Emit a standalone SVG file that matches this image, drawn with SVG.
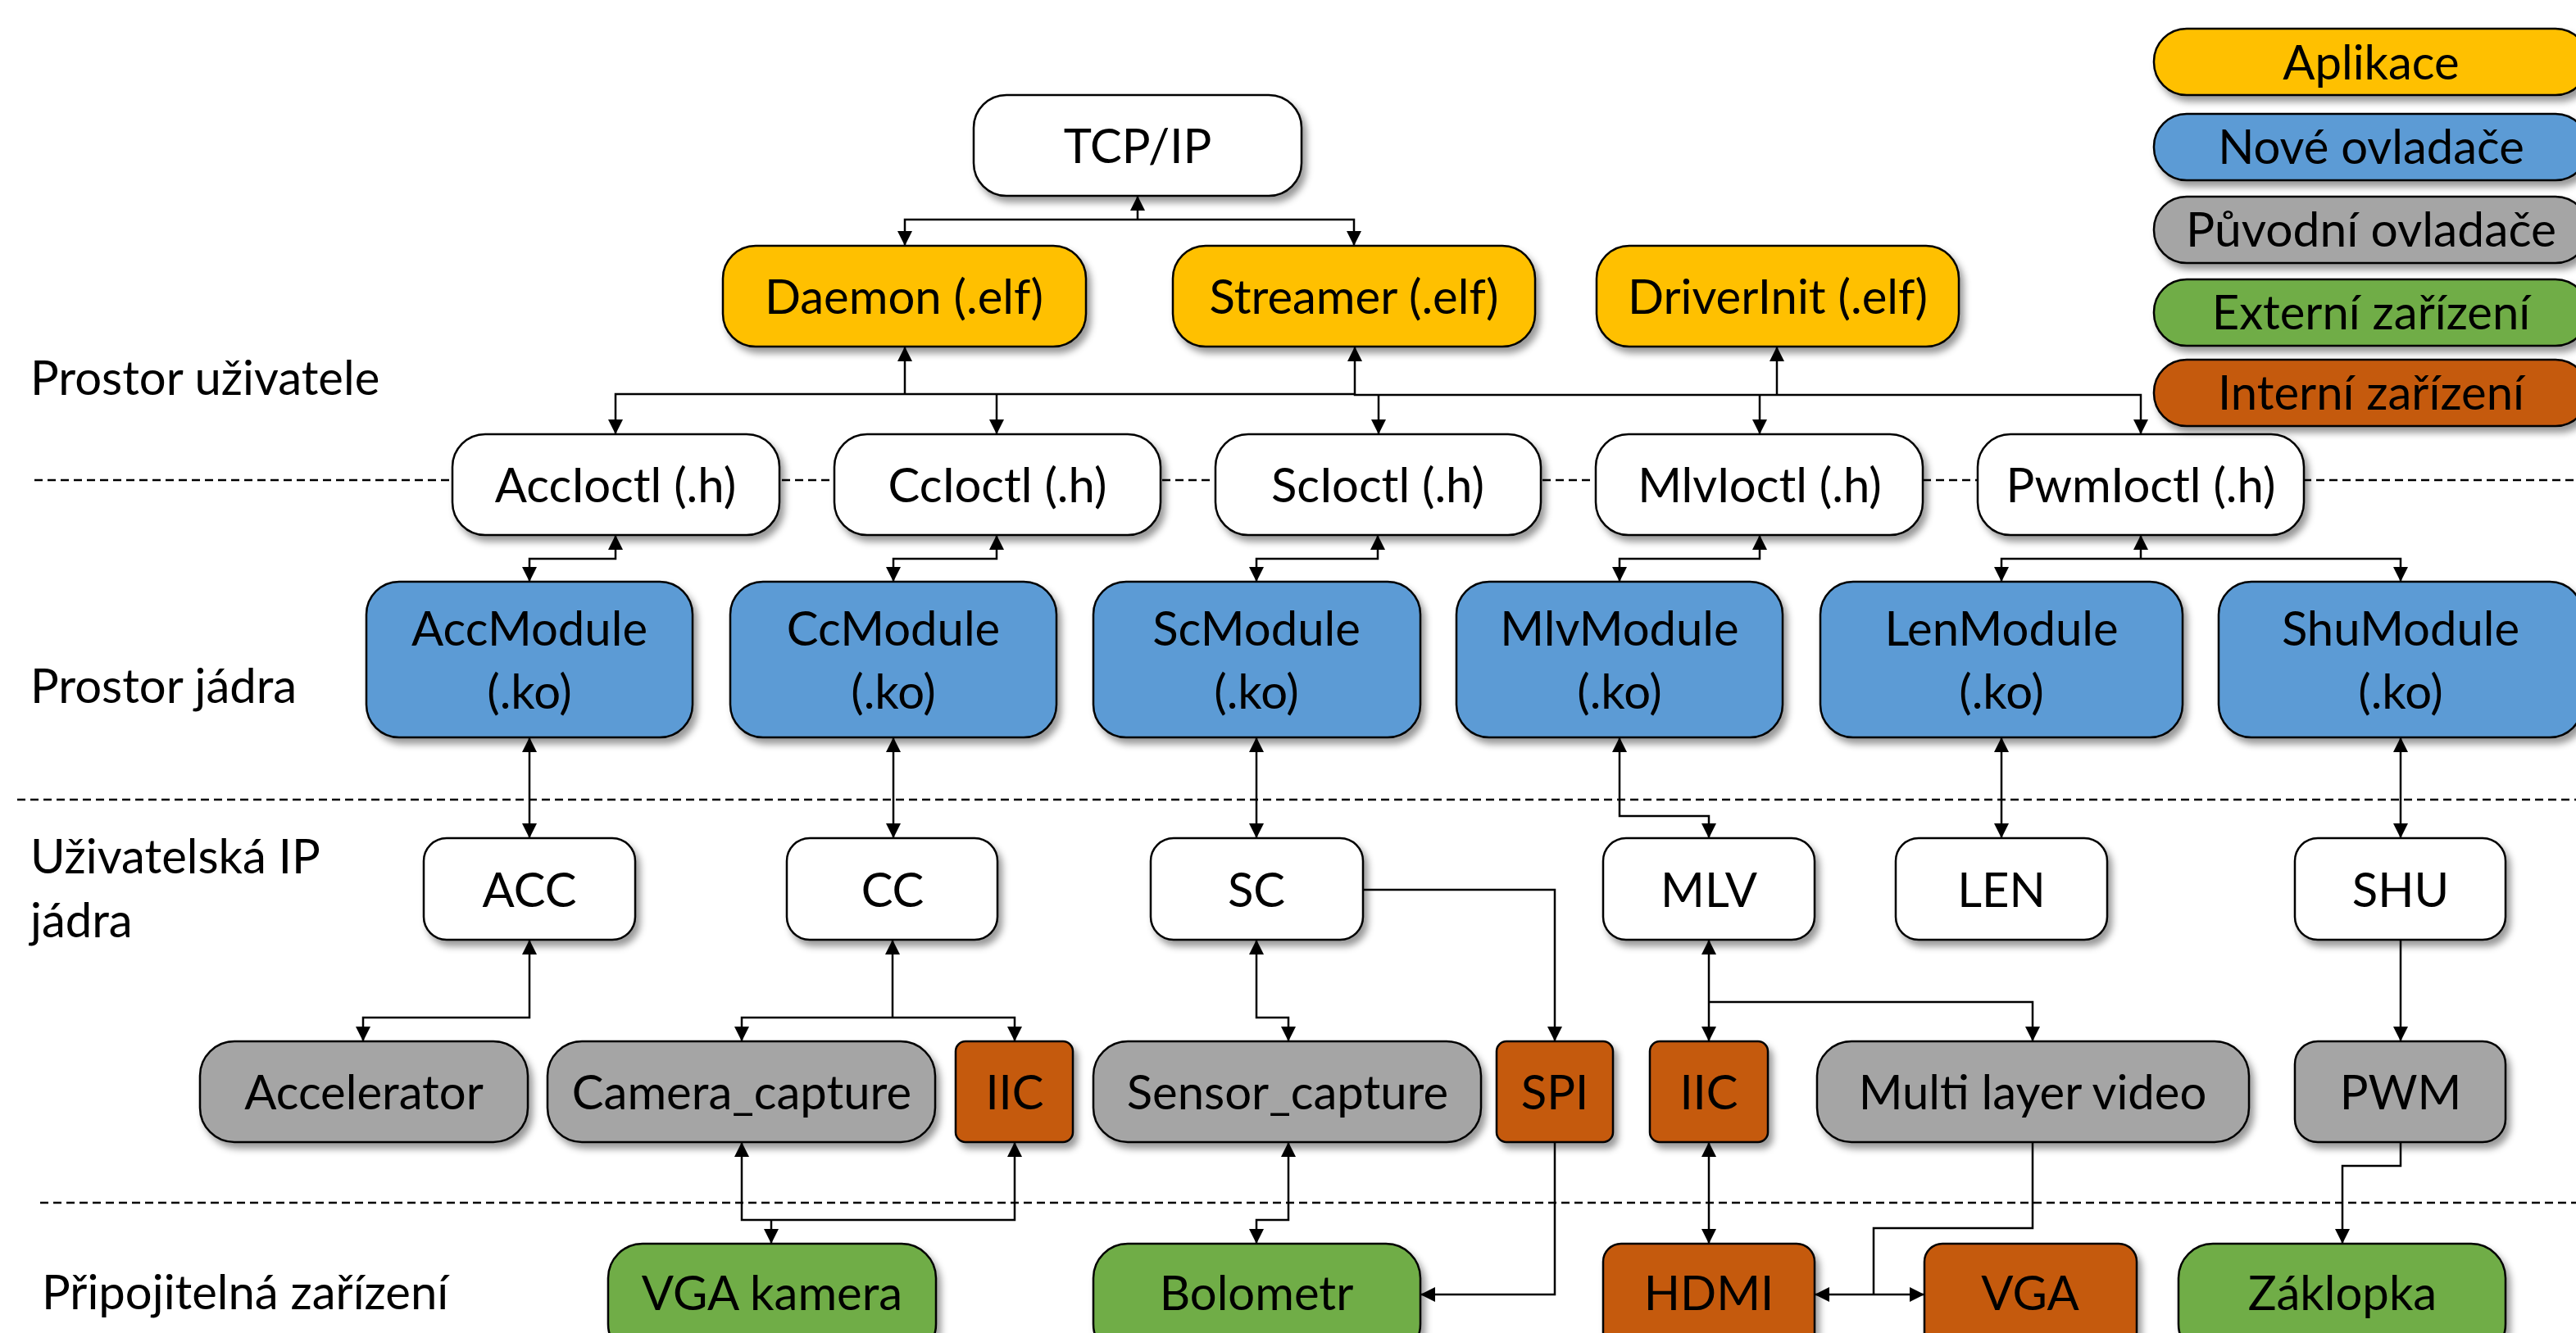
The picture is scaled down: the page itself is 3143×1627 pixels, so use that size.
<svg xmlns="http://www.w3.org/2000/svg" width="3143" height="1627" viewBox="0 0 3143 1627">
<defs>
<style>
.n{stroke:#000;stroke-width:2.5;filter:url(#sh)}
.w{fill:#fff}.y{fill:#FFC000}.b{fill:#5B9BD5}.g{fill:#A5A5A5}.gr{fill:#70AD47}.o{fill:#C55A11}
text{font-family:Lato,"Open Sans","DejaVu Sans",sans-serif;font-size:58px;fill:#000}
.c{text-anchor:middle}
.l{fill:none;stroke:#000;stroke-width:2.5}
.a{marker-end:url(#ar)}
.s{marker-start:url(#ar)}
.d{fill:none;stroke:#000;stroke-width:2.5;stroke-dasharray:10 6}
</style>
<filter id="sh" x="-10%" y="-10%" width="125%" height="130%">
<feDropShadow dx="5" dy="7" stdDeviation="4" flood-color="#000" flood-opacity="0.4"/>
</filter>
<marker id="ar" viewBox="0 0 18 18" refX="18" refY="9" markerWidth="18" markerHeight="18" markerUnits="userSpaceOnUse" orient="auto-start-reverse">
<path d="M0,0 L18,9 L0,18 Z" fill="#000"/>
</marker>
</defs>
<rect width="3143" height="1627" fill="#fff"/>

<g id="separators">
<line class="d" x1="42" y1="586" x2="3143" y2="586"/>
<line class="d" x1="21" y1="976" x2="3143" y2="976"/>
<line class="d" x1="49" y1="1468" x2="3143" y2="1468"/>
</g>

<g id="layer-labels">
<text x="37" y="482">Prostor uživatele</text>
<text x="37" y="858">Prostor jádra</text>
<text x="37" y="1066">Uživatelská IP</text>
<text x="37" y="1144">jádra</text>
<text x="51" y="1598">Připojitelná zařízení</text>
</g>

<g id="connectors">
<path class="l a" d="M1388,268 V239"/>
<path class="l s a" d="M1104,300 V268 H1652 V300"/>
<path class="l a" d="M1104,481 V423"/>
<path class="l s" d="M751,530 V481 H1653"/>
<path class="l a" d="M1216,481 V530"/>
<path class="l s a" d="M1653,423 V482 H2612 V530"/>
<path class="l a" d="M1682,482 V530"/>
<path class="l a" d="M2147,482 V530"/>
<path class="l a" d="M2168,482 V423"/>

<path class="l s a" d="M751,653 V682 H646 V710"/>
<path class="l s a" d="M1216,653 V682 H1090 V710"/>
<path class="l s a" d="M1681,653 V682 H1533 V710"/>
<path class="l s a" d="M2147,653 V682 H1976 V710"/>
<path class="l a" d="M2612,682 V653"/>
<path class="l s a" d="M2442,710 V682 H2929 V710"/>

<path class="l s a" d="M646,900 V1023"/>
<path class="l s a" d="M1090,900 V1023"/>
<path class="l s a" d="M1533,900 V1023"/>
<path class="l s a" d="M1976,900 V996 H2085 V1023"/>
<path class="l s a" d="M2442,900 V1023"/>
<path class="l s a" d="M2929,900 V1023"/>

<path class="l s a" d="M646,1147 V1242 H443 V1271"/>
<path class="l a" d="M1089,1242 V1147"/>
<path class="l s a" d="M905,1271 V1242 H1238 V1271"/>
<path class="l s a" d="M1533,1147 V1242 H1572 V1271"/>
<path class="l a" d="M1663,1086 H1897 V1271"/>
<path class="l s a" d="M2085,1147 V1271"/>
<path class="l a" d="M2085,1223 H2480 V1271"/>
<path class="l a" d="M2929,1147 V1271"/>

<path class="l s a" d="M905,1394 V1489 H1238 V1394"/>
<path class="l a" d="M941,1489 V1518"/>
<path class="l s a" d="M1572,1394 V1489 H1533 V1518"/>
<path class="l a" d="M1897,1394 V1580 H1733"/>
<path class="l s a" d="M2085,1394 V1518"/>
<path class="l" d="M2480,1394 V1499 H2286 V1580"/>
<path class="l s a" d="M2214,1580 H2348"/>
<path class="l a" d="M2929,1394 V1423 H2858 V1518"/>
</g>

<g id="tcpip"><rect class="n w" x="1188" y="116" width="400" height="123" rx="40"/><text class="c" x="1388" y="199">TCP/IP</text></g>
<g id="daemon"><rect class="n y" x="882" y="300" width="443" height="123" rx="40"/><text class="c" x="1103" y="383">Daemon (.elf)</text></g>
<g id="streamer"><rect class="n y" x="1431" y="300" width="442" height="123" rx="40"/><text class="c" x="1652" y="383">Streamer (.elf)</text></g>
<g id="driverinit"><rect class="n y" x="1948" y="300" width="442" height="123" rx="40"/><text class="c" x="2169" y="383">DriverInit (.elf)</text></g>

<g id="accioctl"><rect class="n w" x="552" y="530" width="399" height="123" rx="40"/><text class="c" x="751" y="613">AccIoctl (.h)</text></g>
<g id="ccioctl"><rect class="n w" x="1018" y="530" width="398" height="123" rx="40"/><text class="c" x="1217" y="613">CcIoctl (.h)</text></g>
<g id="scioctl"><rect class="n w" x="1483" y="530" width="397" height="123" rx="40"/><text class="c" x="1681" y="613">ScIoctl (.h)</text></g>
<g id="mlvioctl"><rect class="n w" x="1947" y="530" width="399" height="123" rx="40"/><text class="c" x="2147" y="613">MlvIoctl (.h)</text></g>
<g id="pwmioctl"><rect class="n w" x="2413" y="530" width="398" height="123" rx="40"/><text class="c" x="2612" y="613">PwmIoctl (.h)</text></g>

<g id="accmodule"><rect class="n b" x="447" y="710" width="398" height="190" rx="40"/><text class="c" x="646" y="788">AccModule</text><text class="c" x="646" y="865">(.ko)</text></g>
<g id="ccmodule"><rect class="n b" x="891" y="710" width="398" height="190" rx="40"/><text class="c" x="1090" y="788">CcModule</text><text class="c" x="1090" y="865">(.ko)</text></g>
<g id="scmodule"><rect class="n b" x="1334" y="710" width="399" height="190" rx="40"/><text class="c" x="1533" y="788">ScModule</text><text class="c" x="1533" y="865">(.ko)</text></g>
<g id="mlvmodule"><rect class="n b" x="1777" y="710" width="398" height="190" rx="40"/><text class="c" x="1976" y="788">MlvModule</text><text class="c" x="1976" y="865">(.ko)</text></g>
<g id="lenmodule"><rect class="n b" x="2221" y="710" width="442" height="190" rx="40"/><text class="c" x="2442" y="788">LenModule</text><text class="c" x="2442" y="865">(.ko)</text></g>
<g id="shumodule"><rect class="n b" x="2707" y="710" width="444" height="190" rx="40"/><text class="c" x="2929" y="788">ShuModule</text><text class="c" x="2929" y="865">(.ko)</text></g>

<g id="acc"><rect class="n w" x="517" y="1023" width="258" height="124" rx="28"/><text class="c" x="646" y="1107">ACC</text></g>
<g id="cc"><rect class="n w" x="960" y="1023" width="257" height="124" rx="28"/><text class="c" x="1089" y="1107">CC</text></g>
<g id="sc"><rect class="n w" x="1404" y="1023" width="259" height="124" rx="28"/><text class="c" x="1533" y="1107">SC</text></g>
<g id="mlv"><rect class="n w" x="1956" y="1023" width="258" height="124" rx="28"/><text class="c" x="2085" y="1107">MLV</text></g>
<g id="len"><rect class="n w" x="2313" y="1023" width="258" height="124" rx="28"/><text class="c" x="2442" y="1107">LEN</text></g>
<g id="shu"><rect class="n w" x="2800" y="1023" width="257" height="124" rx="28"/><text class="c" x="2929" y="1107">SHU</text></g>

<g id="accelerator"><rect class="n g" x="244" y="1271" width="400" height="123" rx="42"/><text class="c" x="444" y="1354">Accelerator</text></g>
<g id="camera_capture"><rect class="n g" x="668" y="1271" width="473" height="123" rx="42"/><text class="c" x="905" y="1354">Camera_capture</text></g>
<g id="iic1"><rect class="n o" x="1166" y="1271" width="143" height="123" rx="12"/><text class="c" x="1238" y="1354">IIC</text></g>
<g id="sensor_capture"><rect class="n g" x="1334" y="1271" width="473" height="123" rx="42"/><text class="c" x="1571" y="1354">Sensor_capture</text></g>
<g id="spi"><rect class="n o" x="1826" y="1271" width="142" height="123" rx="12"/><text class="c" x="1897" y="1354">SPI</text></g>
<g id="iic2"><rect class="n o" x="2013" y="1271" width="144" height="123" rx="12"/><text class="c" x="2085" y="1354">IIC</text></g>
<g id="mlvideo"><rect class="n g" x="2217" y="1271" width="527" height="123" rx="42"/><text class="c" x="2480" y="1354">Multi layer video</text></g>
<g id="pwm"><rect class="n g" x="2800" y="1271" width="257" height="123" rx="28"/><text class="c" x="2929" y="1354">PWM</text></g>

<g id="vgakamera"><rect class="n gr" x="742" y="1518" width="400" height="140" rx="42"/><text class="c" x="942" y="1599">VGA kamera</text></g>
<g id="bolometr"><rect class="n gr" x="1334" y="1518" width="399" height="140" rx="42"/><text class="c" x="1533" y="1599">Bolometr</text></g>
<g id="hdmi"><rect class="n o" x="1956" y="1518" width="258" height="140" rx="22"/><text class="c" x="2085" y="1599">HDMI</text></g>
<g id="vga"><rect class="n o" x="2348" y="1518" width="259" height="140" rx="22"/><text class="c" x="2477" y="1599">VGA</text></g>
<g id="zaklopka"><rect class="n gr" x="2658" y="1518" width="399" height="140" rx="42"/><text class="c" x="2858" y="1599">Záklopka</text></g>

<g id="legend">
<g id="leg-aplikace"><rect class="n y" x="2628" y="35" width="530" height="81" rx="40"/><text class="c" x="2893" y="97">Aplikace</text></g>
<g id="leg-nove"><rect class="n b" x="2628" y="139" width="530" height="81" rx="40"/><text class="c" x="2893" y="200">Nové ovladače</text></g>
<g id="leg-puvodni"><rect class="n g" x="2628" y="240" width="530" height="81" rx="40"/><text class="c" x="2893" y="301" textLength="452" lengthAdjust="spacingAndGlyphs">Původní ovladače</text></g>
<g id="leg-externi"><rect class="n gr" x="2628" y="341" width="530" height="81" rx="40"/><text class="c" x="2893" y="402">Externí zařízení</text></g>
<g id="leg-interni"><rect class="n o" x="2628" y="439" width="530" height="81" rx="40"/><text class="c" x="2893" y="500">Interní zařízení</text></g>
</g>
</svg>
